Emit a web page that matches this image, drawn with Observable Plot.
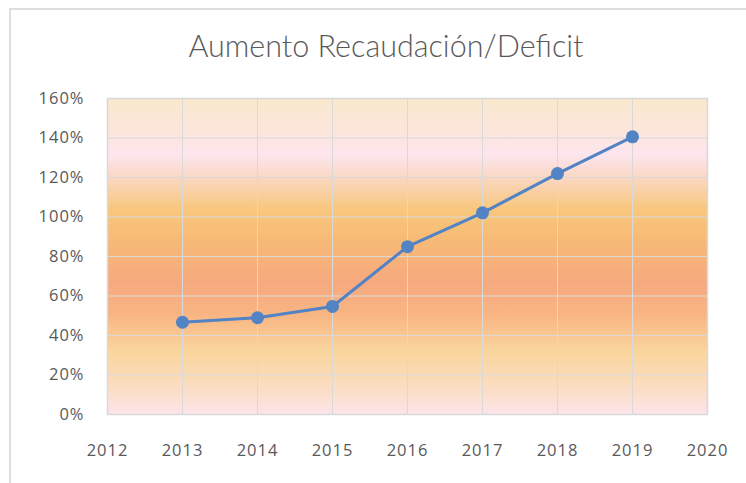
<!DOCTYPE html>
<html>
<head>
<meta charset="utf-8">
<script src="https://cdn.jsdelivr.net/npm/d3@7"></script>
<script src="https://cdn.jsdelivr.net/npm/@observablehq/plot@0.6"></script>
<style>
  html, body { margin: 0; padding: 0; background: #ffffff; }
  #wrap { position: relative; width: 746px; height: 483px; overflow: hidden; }
  #border { position: absolute; left: 9px; top: 8px; right: -10px; bottom: -10px;
            border-left: 2px solid #dedede; border-top: 2px solid #dedede; }
  #title { position: absolute; left: 0; width: 772px; top: 27px; text-align: center;
           font-family: Lato, "Open Sans", sans-serif; font-weight: 300; font-size: 30.5px;
           color: #595959; }
  #chart { position: absolute; left: 0; top: 80px; }
</style>
</head>
<body>
<div id="wrap">
  <div id="border"></div>
  <div id="title">Aumento Recaudación/Deficit</div>
  <div id="chart"></div>
</div>
<script>
const years = [2013, 2014, 2015, 2016, 2017, 2018, 2019];
const values = [46.7, 49.0, 54.7, 85.0, 102.1, 122.0, 140.6];
const xTicks = [2012, 2013, 2014, 2015, 2016, 2017, 2018, 2019, 2020];
const yTicks = [0, 20, 40, 60, 80, 100, 120, 140, 160];

const data = years.map((y, i) => ({year: y, value: values[i]}));

const plot = Plot.plot({
  width: 746,
  height: 403,
  marginTop: 18,
  marginBottom: 69,
  marginLeft: 107,
  marginRight: 39,
  style: {
    fontFamily: "'Open Sans', sans-serif",
    fontSize: "16.5px",
    color: "#595959",
    background: "transparent",
    overflow: "visible"
  },
  x: {domain: [2012, 2020], ticks: xTicks, tickFormat: d => String(d), tickSize: 0, tickPadding: 30, label: null},
  y: {domain: [0, 160], ticks: yTicks, tickFormat: d => d + "%", tickSize: 0, tickPadding: 23, label: null},
  marks: [
    Plot.frame({fill: "url(#bgGrad)", stroke: "none"}),
    Plot.ruleX(xTicks, {stroke: "#d9d9d9", strokeWidth: 1}),
    Plot.ruleY(yTicks, {stroke: "#d9d9d9", strokeWidth: 1}),
    Plot.frame({stroke: "#d9d9d9", strokeWidth: 1.5}),
    Plot.line(data, {x: "year", y: "value", stroke: "#5283c4", strokeWidth: 3}),
    Plot.dot(data, {x: "year", y: "value", r: 6.5, fill: "#5283c4", stroke: "none"})
  ]
});

const svg = d3.select(plot);
svg.selectAll("text").attr("letter-spacing", "1px");
const grad = svg.insert("defs", ":first-child")
  .append("linearGradient")
  .attr("id", "bgGrad")
  .attr("x1", 0).attr("y1", 0).attr("x2", 0).attr("y2", 1);
const stops = [
  [0.00, "#fae8cd"],
  [0.10, "#fbe6da"],
  [0.18, "#fde5ee"],
  [0.25, "#fad7c2"],
  [0.35, "#f8c77d"],
  [0.45, "#f7ba76"],
  [0.58, "#f6a97f"],
  [0.68, "#f8b483"],
  [0.80, "#fad59c"],
  [0.90, "#fbdcbc"],
  [1.00, "#fce4ea"]
];
stops.forEach(([o, c]) => grad.append("stop").attr("offset", o).attr("stop-color", c));

document.getElementById("chart").appendChild(plot);
</script>
</body>
</html>
